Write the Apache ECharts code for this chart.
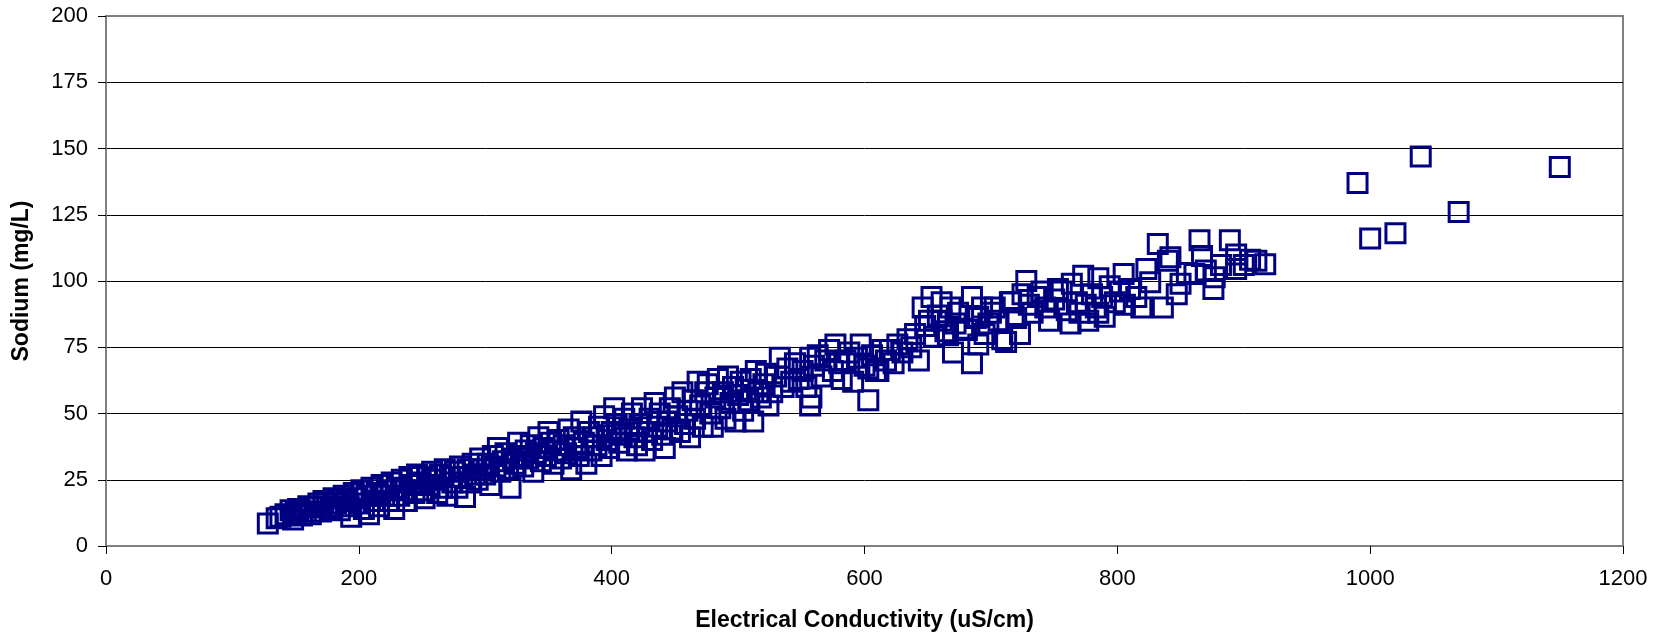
<!DOCTYPE html>
<html>
<head>
<meta charset="utf-8">
<script src="https://cdn.jsdelivr.net/npm/echarts@6/dist/echarts.min.js"></script>
<style>
html,body{margin:0;padding:0;background:#fff;}
#chart{width:1668px;height:637px;}
</style>
</head>
<body>
<div id="chart"></div>
<script>
// Electrical conductivity (uS/cm)
const ecValues = [
128,135,138,142,146,148,150,152,155,158,160,162,165,168,170,172,175,
178,180,182,185,188,190,192,194,196,198,200,202,204,206,208,210,212,214,216,218,220,222,224,
226,228,230,232,234,236,238,240,242,244,246,248,250,252,254,256,258,260,262,264,266,268,270,272,274,
276,278,280,282,284,286,288,290,292,294,296,298,300,302,304,306,308,310,312,314,316,318,320,322,324,
326,328,330,332,334,336,338,340,342,344,346,348,350,352,354,356,358,360,362,364,366,368,370,372,374,
376,378,380,382,384,386,388,390,392,394,396,398,400,402,404,406,408,410,412,414,416,418,420,422,424,426,
428,430,432,434,436,438,440,442,444,446,448,450,452,454,456,458,460,462,464,466,468,470,472,474,
476,478,480,482,484,486,488,490,492,494,496,498,500,502,504,506,508,510,512,514,516,518,520,522,524,
527,530,533,536,539,542,545,548,551,554,557,557,558,560,563,566,569,572,575,
577,580,582,585,588,591,594,597,600,603,603,606,609,611,614,617,620,623,
626,630,634,637,640,643,646,648,651,653,655,658,661,661,664,666,668,670,672,674,
678,681,685,685,688,690,690,693,695,698,700,703,706,709,712,715,716,720,723,725,
728,730,733,737,740,743,746,750,753,756,760,763,764,768,770,773,775,
777,780,783,785,785,788,790,794,798,802,806,805,810,815,819,823,826,
832,836,840,842,847,850,855,861,865,867,870,876,877,882,889,894,894,900,905,910,917,
990,1000,1020,1040,1070,1150
];
// Sodium (mg/L)
const naValues = [
8.5,10.5,11,12,13.5,10,12.5,14,11.5,13,15,12,14.5,16,13,17,15,
14,18,16,13.5,19,17,15,11,20,18,16,21,14,19,12,22,17,20,15,23,19,21,17,
24,14,22,19,25,21,17,26,23,20,27,24,21,18,26,23,28,25,20,27,22,29,19,26,24,
28,22,30,26,18.5,29,24,31,27,25,33,29,27,31,23,34,30,37,28,32,35,29,22,33,31,
39,34,30,36,33,38,28,35,41,32,37,34,43,39,31,36,40,33,38,35,44,29,41,37,34,
47,39,31,43,36,41,38,45,34,49,40,37,43,52,46,39,42,48,36,44,50,41,38,46,52,36,
43,48,40,54,45,50,42,37,47,52,44,56,49,43,58,46,51,41,55,48,62,53,45,58,
61,50,45,56,63,52,58,48,64,54,60,47,57,62,51,59,55,63,47,66,58,56,61,65,53,
58,64,71,60,67,62,69,63,66,60,71,53,56,68,72,64,70,74,66,
76,69,63,70,73,62,71,76,68,55,67,72,66,66,74,70,74,69,
76,73,78,75,80,70,90,83,85,94,79,87,92,85,81,79.5,90,73,84,88,
82,81.5,94,69,86,76,86.5,90,80,84,88,90,85,78,77,92,92,86,80,95,
100,91,88,94,96,90,85,93,97,96,89,84,99,92,88,102,91,
85,95,90,101,88,94,86.5,98,92,96,91,102.6,97,94,90,104.5,99.5,
114,90,107.6,109,95,99,103,102.6,115.4,109.4,104,97,101.4,106,115.4,110,104.5,106,108,107.6,106.3,
137,116,118,147,126,143
];
const xTicks = [0,200,400,600,800,1000,1200];
const yTicks = [0,25,50,75,100,125,150,175,200];

const points = ecValues.map((v,i)=>[v, naValues[i]]);

const chart = echarts.init(document.getElementById('chart'), null, {renderer:'canvas'});
const font = 'Liberation Sans, Arial, sans-serif';
chart.setOption({
  animation:false,
  backgroundColor:'#ffffff',
  grid:{left:106, top:16, width:1517, height:533, show:true, borderColor:'#808080', borderWidth:2, backgroundColor:'transparent'},
  xAxis:{
    type:'value', min:xTicks[0], max:xTicks[xTicks.length-1], interval:200,
    name:'Electrical Conductivity (uS/cm)', nameLocation:'middle', nameGap:63,
    nameTextStyle:{fontFamily:font, fontWeight:'bold', fontSize:23, color:'#000'},
    axisLine:{show:true, onZero:false, lineStyle:{color:'#808080', width:2}},
    axisTick:{show:true, length:8, lineStyle:{color:'#000', width:1}},
    axisLabel:{margin:22, fontFamily:font, fontSize:22, color:'#000', formatter:(v)=>String(v)},
    splitLine:{show:false}
  },
  yAxis:{
    type:'value', min:yTicks[0], max:yTicks[yTicks.length-1], interval:25,
    name:'Sodium (mg/L)', nameLocation:'middle', nameGap:73,
    nameTextStyle:{fontFamily:font, fontWeight:'bold', fontSize:23, color:'#000'},
    axisLine:{show:true, onZero:false, lineStyle:{color:'#808080', width:2}},
    axisTick:{show:true, length:8, lineStyle:{color:'#000', width:1}},
    axisLabel:{margin:18, fontFamily:font, fontSize:22, color:'#000', formatter:(v)=>String(v)},
    splitLine:{show:true, showMinLine:false, showMaxLine:false, lineStyle:{color:'#000', width:1}}
  },
  series:[{
    type:'scatter',
    data:points,
    symbol:'rect',
    symbolSize:19,
    itemStyle:{color:'rgba(0,0,0,0)', borderColor:'#000080', borderWidth:3, opacity:1},
    emphasis:{disabled:true}
  }]
});
</script>
</body>
</html>
